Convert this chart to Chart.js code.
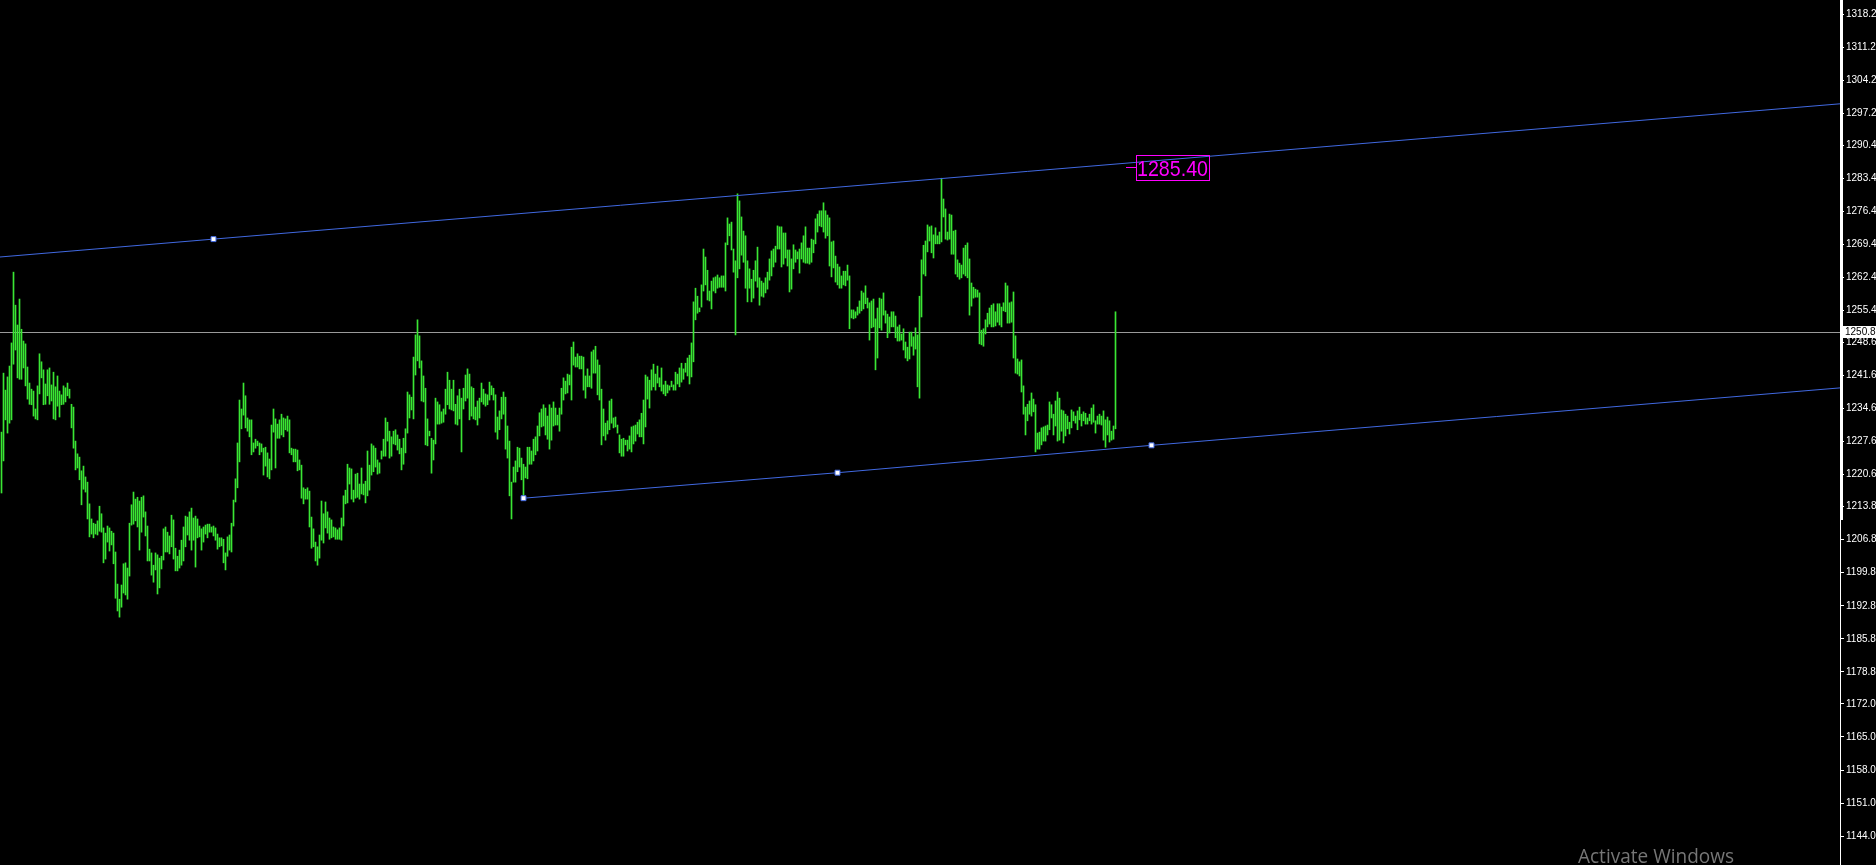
<!DOCTYPE html>
<html>
<head>
<meta charset="utf-8">
<title>Bars and channel</title>
<script src="https://cdn.jsdelivr.net/npm/chart.js@4.4.0/dist/chart.umd.min.js"></script>
<style>
  html, body { margin: 0; padding: 0; background: #000; overflow: hidden; }
  canvas { display: block; }
</style>
</head>
<body>
<canvas id="priceChart" width="1876" height="865"></canvas>
<script>
// bar highs / lows, one per bar
const highs = [
    1229.6, 1242.1, 1238.5, 1241.3, 1243.6, 1248.5, 1263.5, 1256.5, 1252.3, 1257.8,
    1251.4, 1248.9, 1248.3, 1243.4, 1240.0, 1238.7, 1238.3, 1234.5, 1239.4, 1246.2,
    1244.5, 1242.8, 1239.8, 1242.8, 1243.2, 1239.6, 1242.3, 1239.2, 1241.5, 1238.3,
    1237.5, 1239.4, 1239.0, 1240.0, 1238.7, 1235.5, 1234.9, 1227.7, 1225.0, 1224.3,
    1221.4, 1222.4, 1220.1, 1219.0, 1214.4, 1211.2, 1210.3, 1210.1, 1210.8, 1213.9,
    1212.3, 1209.3, 1208.2, 1209.7, 1209.3, 1208.6, 1208.2, 1204.2, 1197.4, 1194.2,
    1197.2, 1201.7, 1201.9, 1200.8, 1210.3, 1214.2, 1216.9, 1215.4, 1215.8, 1215.0,
    1215.8, 1216.1, 1212.7, 1209.7, 1204.8, 1204.0, 1201.4, 1204.0, 1203.6, 1202.9,
    1203.3, 1209.1, 1209.5, 1208.4, 1207.6, 1212.0, 1211.0, 1205.0, 1203.3, 1204.6,
    1206.7, 1209.5, 1211.8, 1211.6, 1212.7, 1213.5, 1211.4, 1211.8, 1211.2, 1209.7,
    1209.1, 1209.5, 1209.9, 1210.1, 1210.1, 1209.5, 1209.7, 1209.3, 1208.0, 1207.2,
    1207.2, 1206.9, 1204.0, 1207.4, 1207.8, 1210.3, 1215.2, 1219.7, 1227.3, 1236.4,
    1234.5, 1240.0, 1237.3, 1232.6, 1232.2, 1232.2, 1227.3, 1228.1, 1227.7, 1227.3,
    1227.1, 1226.2, 1226.4, 1225.2, 1223.9, 1231.1, 1234.5, 1232.4, 1231.3, 1232.2,
    1233.4, 1232.6, 1232.4, 1233.0, 1232.2, 1226.2, 1226.0, 1226.0, 1225.8, 1223.7,
    1222.6, 1217.8, 1217.5, 1217.8, 1217.1, 1211.6, 1209.1, 1206.3, 1205.3, 1207.8,
    1215.0, 1212.3, 1214.8, 1212.7, 1211.4, 1211.0, 1209.5, 1209.3, 1208.9, 1209.3,
    1211.4, 1216.1, 1217.3, 1222.8, 1222.0, 1221.8, 1217.3, 1220.7, 1220.9, 1218.6,
    1222.0, 1218.6, 1219.2, 1225.6, 1222.6, 1227.1, 1226.7, 1226.2, 1223.7, 1223.1,
    1225.6, 1228.1, 1232.6, 1231.7, 1229.8, 1228.6, 1229.8, 1230.1, 1229.0, 1228.1,
    1226.2, 1228.3, 1230.3, 1238.1, 1237.5, 1237.0, 1245.5, 1250.2, 1253.4, 1250.0,
    1244.7, 1241.5, 1238.9, 1232.4, 1229.8, 1228.3, 1227.9, 1236.8, 1236.0, 1235.4,
    1233.9, 1234.5, 1238.7, 1242.3, 1240.6, 1238.7, 1240.6, 1235.5, 1237.3, 1238.7,
    1236.8, 1238.9, 1241.7, 1243.0, 1241.9, 1239.2, 1238.9, 1234.9, 1236.2, 1236.8,
    1240.0, 1238.7, 1237.7, 1237.5, 1240.2, 1239.4, 1238.9, 1237.5, 1232.8, 1234.1,
    1237.0, 1238.1, 1237.0, 1230.9, 1227.7, 1219.0, 1222.2, 1223.5, 1226.4, 1226.2,
    1224.1, 1222.8, 1222.2, 1226.4, 1226.4, 1225.6, 1228.1, 1228.6, 1230.9, 1233.7,
    1234.5, 1235.4, 1234.7, 1233.0, 1235.4, 1234.7, 1236.0, 1234.7, 1233.2, 1234.7,
    1238.9, 1241.1, 1240.4, 1241.9, 1241.7, 1247.6, 1248.7, 1245.5, 1246.2, 1245.7,
    1245.7, 1245.5, 1241.5, 1243.0, 1241.5, 1246.6, 1247.0, 1247.8, 1244.9, 1243.8,
    1238.7, 1234.5, 1231.5, 1232.0, 1236.2, 1236.6, 1232.6, 1232.8, 1231.1, 1229.0,
    1228.1, 1228.3, 1227.9, 1227.9, 1228.8, 1230.7, 1230.9, 1231.1, 1231.7, 1232.2,
    1233.6, 1236.4, 1241.7, 1241.3, 1240.6, 1242.8, 1244.0, 1241.9, 1243.6, 1241.1,
    1243.2, 1239.6, 1240.4, 1239.6, 1239.4, 1240.4, 1239.6, 1242.3, 1241.9, 1243.2,
    1244.2, 1243.0, 1244.2, 1245.3, 1245.9, 1248.5, 1257.2, 1260.1, 1258.4, 1255.9,
    1260.8, 1268.4, 1266.7, 1263.9, 1259.5, 1261.6, 1262.3, 1262.5, 1262.9, 1262.3,
    1262.7, 1262.7, 1269.7, 1275.0, 1273.7, 1274.1, 1268.4, 1265.9, 1280.1, 1278.6,
    1275.2, 1272.2, 1271.2, 1265.9, 1264.2, 1262.0, 1263.9, 1265.9, 1268.8, 1262.3,
    1261.6, 1261.2, 1262.3, 1263.5, 1266.3, 1268.0, 1268.4, 1269.0, 1273.3, 1273.1,
    1273.1, 1271.8, 1271.8, 1268.2, 1268.2, 1266.3, 1269.3, 1268.2, 1267.8, 1268.4,
    1269.7, 1271.2, 1273.1, 1268.6, 1268.6, 1270.5, 1270.3, 1274.8, 1275.8, 1276.5,
    1276.5, 1278.2, 1276.5, 1275.6, 1275.0, 1269.9, 1270.1, 1266.9, 1265.2, 1264.6,
    1262.7, 1263.7, 1263.7, 1265.0, 1262.7, 1255.5, 1255.5, 1255.1, 1256.1, 1257.4,
    1259.5, 1259.1, 1260.6, 1258.0, 1257.0, 1257.4, 1257.8, 1253.6, 1255.9, 1258.0,
    1257.8, 1259.1, 1255.3, 1254.6, 1254.0, 1255.1, 1255.1, 1254.2, 1251.9, 1252.3,
    1250.4, 1251.5, 1248.7, 1247.6, 1250.8, 1250.8, 1249.8, 1251.7, 1250.2, 1258.4,
    1266.1, 1269.2, 1270.1, 1273.5, 1273.1, 1273.3, 1271.4, 1272.9, 1271.2, 1272.0,
    1283.4, 1279.0, 1276.9, 1272.0, 1275.8, 1275.6, 1272.2, 1272.4, 1266.1, 1265.4,
    1265.0, 1268.6, 1269.2, 1269.7, 1266.3, 1261.2, 1260.3, 1259.9, 1259.7, 1259.1,
    1251.2, 1251.5, 1253.4, 1254.8, 1255.9, 1256.5, 1256.8, 1255.1, 1256.8, 1256.8,
    1256.1, 1257.0, 1261.2, 1260.6, 1257.0, 1257.2, 1259.3, 1250.0, 1245.1, 1244.5,
    1244.9, 1239.4, 1234.9, 1235.5, 1236.2, 1237.9, 1236.6, 1235.4, 1229.4, 1229.6,
    1230.5, 1230.7, 1230.9, 1231.1, 1236.0, 1235.4, 1233.4, 1236.2, 1238.1, 1236.8,
    1234.3, 1234.1, 1233.4, 1233.0, 1231.7, 1234.3, 1233.9, 1233.0, 1234.1, 1234.9,
    1233.4, 1233.9, 1233.6, 1232.6, 1233.4, 1234.7, 1235.4, 1232.0, 1233.0, 1233.4,
    1233.0, 1234.1, 1232.2, 1232.8, 1232.0, 1229.8, 1230.9, 1255.1
];

const lows = [
    1216.7, 1223.5, 1232.2, 1229.4, 1231.5, 1232.2, 1244.0, 1247.0, 1241.1, 1240.8,
    1240.8, 1243.2, 1239.4, 1236.6, 1235.5, 1235.4, 1233.0, 1232.4, 1232.2, 1237.7,
    1241.1, 1235.4, 1235.5, 1237.3, 1235.5, 1236.2, 1232.4, 1232.2, 1235.1, 1232.8,
    1235.4, 1235.5, 1236.0, 1237.3, 1236.8, 1230.5, 1226.2, 1221.6, 1222.0, 1219.5,
    1214.2, 1217.5, 1216.9, 1211.2, 1207.4, 1208.0, 1207.2, 1208.0, 1207.8, 1208.6,
    1208.4, 1201.9, 1202.7, 1206.3, 1204.4, 1205.7, 1201.7, 1194.4, 1191.7, 1190.4,
    1192.5, 1195.5, 1195.1, 1194.2, 1199.1, 1209.9, 1210.1, 1210.8, 1209.5, 1204.6,
    1208.4, 1211.6, 1207.6, 1202.3, 1202.3, 1199.3, 1197.8, 1200.4, 1195.3, 1196.6,
    1200.6, 1202.5, 1204.2, 1204.2, 1203.8, 1205.3, 1202.7, 1200.2, 1200.2, 1200.8,
    1201.4, 1202.3, 1205.3, 1207.8, 1206.7, 1204.6, 1206.7, 1201.0, 1207.2, 1207.4,
    1204.6, 1206.3, 1208.0, 1207.2, 1208.4, 1208.4, 1207.6, 1206.7, 1204.8, 1205.3,
    1205.5, 1201.9, 1200.4, 1203.3, 1204.6, 1204.2, 1209.7, 1214.8, 1217.8, 1223.3,
    1230.3, 1233.2, 1230.5, 1229.8, 1228.6, 1224.8, 1225.4, 1226.2, 1226.7, 1224.8,
    1225.4, 1220.5, 1222.4, 1220.1, 1219.7, 1221.6, 1229.6, 1222.0, 1228.3, 1228.3,
    1229.0, 1228.6, 1230.1, 1229.8, 1225.2, 1224.8, 1223.3, 1223.3, 1221.4, 1221.6,
    1215.6, 1214.4, 1215.4, 1215.4, 1209.5, 1205.0, 1205.3, 1202.3, 1201.4, 1202.9,
    1206.7, 1206.1, 1209.3, 1208.2, 1206.9, 1207.2, 1207.4, 1206.9, 1206.9, 1206.9,
    1206.7, 1209.7, 1214.4, 1214.6, 1218.6, 1215.4, 1214.8, 1215.6, 1215.8, 1215.4,
    1216.5, 1216.3, 1214.6, 1216.1, 1217.3, 1220.5, 1221.2, 1222.2, 1220.7, 1220.9,
    1223.9, 1224.5, 1224.5, 1227.7, 1224.1, 1224.5, 1227.1, 1226.9, 1225.8, 1225.0,
    1221.6, 1222.8, 1225.2, 1229.4, 1232.6, 1234.3, 1232.4, 1241.7, 1244.7, 1243.2,
    1236.2, 1236.0, 1226.9, 1226.7, 1228.8, 1220.9, 1223.7, 1227.1, 1231.3, 1231.3,
    1231.5, 1231.7, 1233.4, 1235.4, 1234.5, 1234.3, 1234.1, 1231.3, 1231.1, 1232.4,
    1225.4, 1234.5, 1236.2, 1236.8, 1232.2, 1233.0, 1232.4, 1232.2, 1231.1, 1232.6,
    1236.0, 1235.5, 1235.1, 1235.4, 1236.4, 1237.5, 1236.4, 1229.6, 1228.1, 1230.1,
    1232.4, 1233.4, 1226.0, 1224.1, 1216.1, 1211.2, 1219.0, 1219.0, 1221.2, 1222.2,
    1219.5, 1216.1, 1219.9, 1219.7, 1222.8, 1222.8, 1223.5, 1224.8, 1225.6, 1228.8,
    1230.7, 1230.9, 1229.0, 1228.1, 1226.0, 1227.9, 1230.9, 1231.1, 1231.1, 1229.8,
    1233.4, 1236.4, 1237.7, 1237.9, 1239.6, 1236.4, 1243.8, 1243.4, 1243.4, 1243.0,
    1243.0, 1238.5, 1236.8, 1239.2, 1239.2, 1238.9, 1242.1, 1242.1, 1237.5, 1236.4,
    1226.9, 1228.8, 1227.9, 1229.2, 1230.1, 1231.5, 1230.5, 1230.7, 1229.4, 1225.2,
    1224.5, 1224.5, 1226.9, 1225.6, 1226.0, 1225.4, 1227.1, 1227.7, 1229.2, 1228.6,
    1228.6, 1227.1, 1230.7, 1236.6, 1234.7, 1238.5, 1239.2, 1238.5, 1240.0, 1239.2,
    1238.3, 1237.7, 1237.3, 1237.9, 1238.5, 1239.2, 1238.5, 1238.5, 1239.8, 1239.2,
    1240.2, 1240.8, 1242.3, 1241.5, 1239.8, 1241.3, 1244.5, 1253.4, 1254.8, 1255.1,
    1256.1, 1259.5, 1260.8, 1257.6, 1257.4, 1255.7, 1259.5, 1259.1, 1260.1, 1260.3,
    1260.3, 1260.3, 1259.5, 1269.3, 1271.2, 1268.2, 1263.5, 1250.2, 1262.3, 1264.2,
    1267.1, 1265.6, 1260.1, 1257.2, 1260.1, 1257.2, 1258.0, 1261.6, 1260.3, 1256.5,
    1258.4, 1258.2, 1259.1, 1259.9, 1261.8, 1262.7, 1264.6, 1265.6, 1268.4, 1268.4,
    1264.6, 1265.2, 1266.5, 1264.8, 1259.3, 1259.9, 1264.2, 1265.6, 1266.3, 1263.3,
    1266.3, 1265.6, 1265.4, 1265.4, 1265.2, 1265.6, 1267.6, 1269.5, 1272.0, 1273.3,
    1273.1, 1272.0, 1270.7, 1271.2, 1264.8, 1262.5, 1264.4, 1261.4, 1260.8, 1260.1,
    1260.1, 1260.8, 1260.6, 1261.8, 1251.5, 1253.8, 1253.6, 1253.8, 1254.4, 1254.8,
    1255.3, 1255.7, 1256.8, 1255.9, 1249.1, 1251.7, 1251.9, 1242.8, 1245.3, 1251.7,
    1251.2, 1254.4, 1252.7, 1249.6, 1250.6, 1251.9, 1251.9, 1249.6, 1248.9, 1248.9,
    1249.1, 1247.0, 1245.3, 1244.7, 1245.1, 1247.8, 1245.9, 1247.2, 1239.2, 1236.8,
    1254.0, 1263.1, 1262.7, 1267.8, 1270.1, 1267.6, 1266.5, 1269.5, 1269.5, 1269.5,
    1269.9, 1275.2, 1270.5, 1270.3, 1270.5, 1267.3, 1267.3, 1263.1, 1262.5, 1262.0,
    1262.3, 1263.1, 1262.7, 1262.3, 1254.4, 1256.3, 1258.0, 1258.2, 1258.2, 1248.3,
    1248.1, 1247.8, 1250.4, 1251.9, 1252.5, 1251.9, 1251.9, 1252.1, 1252.9, 1252.3,
    1251.9, 1255.3, 1255.1, 1252.7, 1252.7, 1252.9, 1245.3, 1242.1, 1241.9, 1241.5,
    1238.1, 1233.4, 1229.0, 1232.0, 1233.4, 1233.0, 1233.9, 1225.4, 1226.0, 1226.0,
    1226.9, 1227.7, 1227.7, 1229.0, 1230.1, 1232.6, 1229.0, 1230.9, 1227.7, 1227.9,
    1229.8, 1227.3, 1228.8, 1230.3, 1229.2, 1230.5, 1232.0, 1231.5, 1230.1, 1232.2,
    1230.9, 1232.0, 1231.3, 1231.3, 1232.0, 1231.3, 1231.7, 1229.4, 1231.3, 1231.3,
    1231.1, 1227.9, 1226.4, 1229.0, 1227.5, 1227.9, 1228.1, 1230.3
];

// price scale labels on the right
const yTicks = [1318.2, 1311.2, 1304.2, 1297.2, 1290.4, 1283.4, 1276.4, 1269.4, 1262.4,
    1255.4, 1248.6, 1241.6, 1234.6, 1227.6, 1220.6, 1213.8, 1206.8, 1199.8, 1192.8,
    1185.8, 1178.8, 1172.0, 1165.0, 1158.0, 1151.0, 1144.0];

// equidistant channel (bar index, price)
const channelUpperBars = [-1, 106, 920];
const channelUpperPrices = [1266.7, 1270.5, 1299.2];
const channelLowerBars = [261, 418, 575, 920];
const channelLowerPrices = [1215.6, 1221.0, 1226.8, 1239.0];
const markerBars = [106, 261, 418, 575];
const markerPrices = [1270.5, 1215.6, 1221.0, 1226.8];

const bidPrice = 1250.8;
const priceLabel = { bar: 562, price: 1285.40, text: '1285.40' };

const bars = highs.map((h, i) => ({ x: i, y: [lows[i], h] }));
const upper = channelUpperBars.map((b, i) => ({ x: b, y: channelUpperPrices[i] }));
const lower = channelLowerBars.map((b, i) => ({ x: b, y: channelLowerPrices[i] }));
const markers = markerBars.map((b, i) => ({ x: b, y: markerPrices[i] }));

const bidLine = {
    id: 'bidLine',
    beforeDatasetsDraw(chart) {
        const { ctx, chartArea, scales } = chart;
        const y = Math.round(scales.y.getPixelForValue(bidPrice)) + 0.5;
        ctx.save();
        ctx.strokeStyle = '#9a9a9a';
        ctx.lineWidth = 1;
        ctx.beginPath();
        ctx.moveTo(chartArea.left, y);
        ctx.lineTo(chartArea.right, y);
        ctx.stroke();
        ctx.restore();
    }
};

const overlay = {
    id: 'overlay',
    afterDraw(chart) {
        const { ctx, scales } = chart;
        ctx.save();

        // thicker piece of the scale line
        ctx.fillStyle = '#ffffff';
        ctx.fillRect(1840, 0, 3, 520);

        // bid price box on the axis
        const yb = Math.round(scales.y.getPixelForValue(bidPrice));
        ctx.fillStyle = '#ffffff';
        ctx.fillRect(1842, yb - 6, 34, 12);
        ctx.fillStyle = '#000000';
        ctx.font = '10px "Liberation Sans", Arial, sans-serif';
        ctx.textBaseline = 'middle';
        ctx.textAlign = 'left';
        ctx.fillText(bidPrice.toFixed(1), 1845, yb);

        // magenta price text object
        const lx = Math.round(scales.x.getPixelForValue(priceLabel.bar));
        const ly = Math.round(scales.y.getPixelForValue(priceLabel.price));
        ctx.strokeStyle = '#ff00ff';
        ctx.lineWidth = 1;
        ctx.beginPath();
        ctx.moveTo(lx, ly - 1.5);
        ctx.lineTo(lx + 10, ly - 1.5);
        ctx.stroke();
        ctx.strokeRect(lx + 10.5, ly - 13.5, 73, 25);
        ctx.fillStyle = '#ff00ff';
        ctx.font = '22px "Liberation Sans", Arial, sans-serif';
        ctx.textBaseline = 'alphabetic';
        ctx.fillText(priceLabel.text, lx + 11, ly + 7, 71);

        // windows watermark
        ctx.fillStyle = '#767676';
        ctx.font = '20px "Open Sans", "Noto Sans", sans-serif';
        ctx.fillText('Activate Windows', 1578, 863, 156);

        ctx.restore();
    }
};

const ctx = document.getElementById('priceChart').getContext('2d');
new Chart(ctx, {
    type: 'bar',
    data: {
        datasets: [
            {
                type: 'scatter',
                label: 'points',
                data: markers,
                pointStyle: 'rect',
                pointRadius: 3.5,
                pointBackgroundColor: '#ffffff',
                pointBorderColor: '#4169e1',
                pointBorderWidth: 1,
                order: 0
            },
            {
                type: 'line',
                label: 'upper',
                data: upper,
                borderColor: '#4169e1',
                borderWidth: 1,
                pointRadius: 0,
                fill: false,
                order: 1
            },
            {
                type: 'line',
                label: 'lower',
                data: lower,
                borderColor: '#4169e1',
                borderWidth: 1,
                pointRadius: 0,
                fill: false,
                order: 1
            },
            {
                type: 'bar',
                label: 'bars',
                data: bars,
                backgroundColor: '#3ae634',
                borderWidth: 0,
                barThickness: 1,
                order: 2
            }
        ]
    },
    options: {
        responsive: false,
        animation: false,
        devicePixelRatio: 1,
        layout: { padding: 0, autoPadding: false },
        plugins: {
            legend: { display: false },
            tooltip: { enabled: false }
        },
        scales: {
            x: {
                type: 'linear',
                display: false,
                offset: false,
                min: -0.75,
                max: 919.25
            },
            y: {
                position: 'right',
                min: 1137.87,
                max: 1321.17,
                afterBuildTicks: scale => {
                    scale.ticks = yTicks.map(v => ({ value: v }));
                },
                afterFit: scale => {
                    scale.width = 36;
                    scale.paddingTop = 0;
                    scale.paddingBottom = 0;
                },
                grid: {
                    drawOnChartArea: false,
                    drawTicks: true,
                    tickLength: 4,
                    color: '#ffffff'
                },
                border: { display: true, color: '#ffffff', width: 1 },
                ticks: {
                    autoSkip: false,
                    padding: 2,
                    color: '#ffffff',
                    font: { family: '"Liberation Sans", Arial, sans-serif', size: 10 },
                    callback: v => Number(v).toFixed(1)
                }
            }
        }
    },
    plugins: [bidLine, overlay]
});
</script>
</body>
</html>
